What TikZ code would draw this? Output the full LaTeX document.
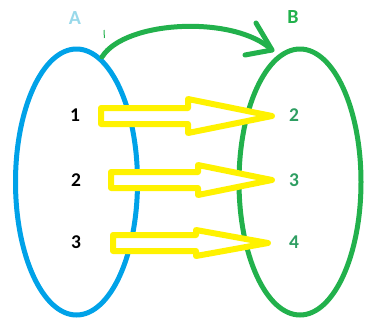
\documentclass[tikz,border=0pt]{standalone}
\usepackage{fontspec}
\setmainfont{Carlito}
\usetikzlibrary{shapes.geometric}
\definecolor{setblue}{HTML}{00A2E8}
\definecolor{setgreen}{HTML}{22B14C}
\definecolor{lightturq}{HTML}{99D9EA}
\definecolor{numgreen}{HTML}{2E9E62}
\definecolor{arrowyellow}{HTML}{FFF200}
\tikzset{
  setoval/.style={ellipse, draw, line width=5pt, inner sep=0pt, outer sep=0pt,
    minimum width=122pt, minimum height=266pt},
  setlabel/.style={font=\bfseries\fontsize{20}{20}\selectfont, inner sep=0pt},
  elem/.style={font=\bfseries\fontsize{19.5}{20}\selectfont, inner sep=0pt},
  blockarrow/.style={draw=arrowyellow, fill=white, line width=6pt, line join=round},
  maparc/.style={draw=setgreen, line width=5pt, line cap=round, line join=round}
}
% block arrow: #1 tail x, #2 centre y, #3 neck x, #4 tip x, #5 half shaft, #6 half head
\newcommand{\yblockarrow}[6]{%
  \draw[blockarrow] (#1,#2-#5) -- (#3,#2-#5) -- (#3,#2-#6) -- (#4,#2)
    -- (#3,#2+#6) -- (#3,#2+#5) -- (#1,#2+#5) -- cycle;}
\begin{document}
\begin{tikzpicture}[x=1pt, y=-1pt]
  \useasboundingbox (0,0) rectangle (367,325);

  % the two sets
  \node[setoval, draw=setblue] (A) at (76.5,182) {};
  \node[setoval, draw=setgreen] (B) at (300,182) {};

  % set names
  \node[setlabel, text=lightturq] (la) at (75,18) {A};
  \node[setlabel, text=setgreen] (lb) at (293,17) {B};

  % small stray tick
  \draw[setgreen, line width=1pt] (104,30) -- (104.4,38);

  % mapping arc from A to B
  \coordinate (arcstart) at (102,57);
  \coordinate (arctip) at (272,50);
  \draw[maparc] (arcstart) .. controls (125,20) and (235,15) .. (arctip);
  \draw[maparc] (256,23) -- (arctip) -- (245,55);

  % element arrows
  \yblockarrow{101}{116}{188}{272}{8}{17}
  \yblockarrow{111}{180}{198}{272}{8}{15}
  \yblockarrow{113}{243}{196}{268}{8}{13}

  % elements of A
  \node[elem] (a1) at (75,115) {1};
  \node[elem] (a2) at (76,180) {2};
  \node[elem] (a3) at (76,242) {3};

  % elements of B
  \node[elem, text=numgreen] (b2) at (294,115) {2};
  \node[elem, text=numgreen] (b3) at (294,180) {3};
  \node[elem, text=numgreen] (b4) at (294,242) {4};
\end{tikzpicture}
\end{document}
